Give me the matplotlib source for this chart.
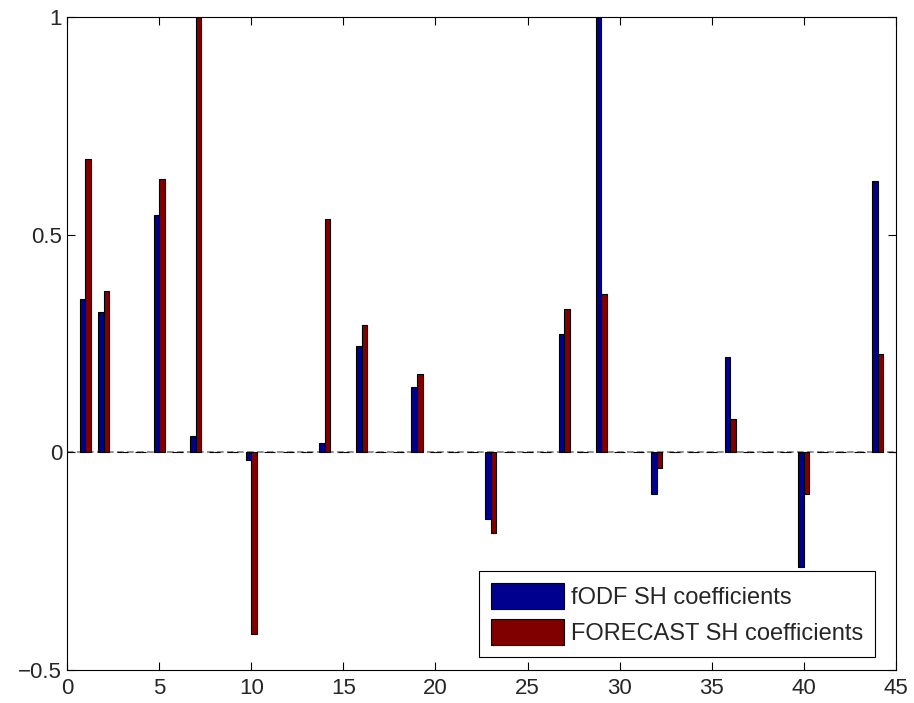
import numpy as np
import matplotlib
matplotlib.use('Agg')
import matplotlib.pyplot as plt

plt.rcParams['font.family'] = ['Liberation Sans', 'DejaVu Sans']

# SH coefficient index (1..45) and values; all other entries are zero
indices = np.arange(1, 46)
nonzero_idx = [1, 2, 5, 7, 10, 14, 16, 19, 23, 27, 29, 32, 36, 40, 44]
fodf_vals = [0.352, 0.322, 0.544, 0.038, -0.018, 0.022, 0.244, 0.150, -0.154,
             0.272, 1.0, -0.097, 0.218, -0.263, 0.622]
forecast_vals = [0.674, 0.371, 0.628, 1.0, -0.417, 0.536, 0.293, 0.180, -0.185,
                 0.328, 0.364, -0.036, 0.077, -0.097, 0.225]

fodf = np.zeros(45)
forecast = np.zeros(45)
fodf[np.array(nonzero_idx) - 1] = fodf_vals
forecast[np.array(nonzero_idx) - 1] = forecast_vals

fig = plt.figure(figsize=(9.14, 7.03), dpi=100)
ax = fig.add_axes([0.0733, 0.047, 0.907, 0.929])

w = 0.3
# dashed look of the zero line (zero-height bars in the original)
ax.axhline(0, color='#808080', lw=1.2, ls=(0, (4, 2)), zorder=1)
ax.bar(indices - w / 2, fodf, width=w, color='#00008F', edgecolor='black',
       linewidth=0.8, label='fODF SH coefficients', zorder=2)
ax.bar(indices + w / 2, forecast, width=w, color='#800000', edgecolor='black',
       linewidth=0.8, label='FORECAST SH coefficients', zorder=2)

ax.set_xlim(0, 45)
ax.set_ylim(-0.5, 1)
ax.set_xticks(np.arange(0, 46, 5))
ax.set_yticks([-0.5, 0, 0.5, 1])
ax.set_yticklabels(['\u22120.5', '0', '0.5', '1'])
ax.tick_params(direction='in', top=True, right=True, labelsize=16, length=6,
               width=0.8, labelcolor='#262626')
ax.tick_params(axis='x', pad=6)
for s in ax.spines.values():
    s.set_linewidth(0.8)

leg = ax.legend(loc='lower right', bbox_to_anchor=(0.975, 0.02), fontsize=17,
                fancybox=False, edgecolor='black', framealpha=1,
                handlelength=3.1, handleheight=1.3, borderpad=0.5,
                labelspacing=0.45, handletextpad=0.3, borderaxespad=0)
leg.get_frame().set_linewidth(0.8)
for t in leg.get_texts():
    t.set_color('#262626')

fig.savefig('out.png', dpi=100)
